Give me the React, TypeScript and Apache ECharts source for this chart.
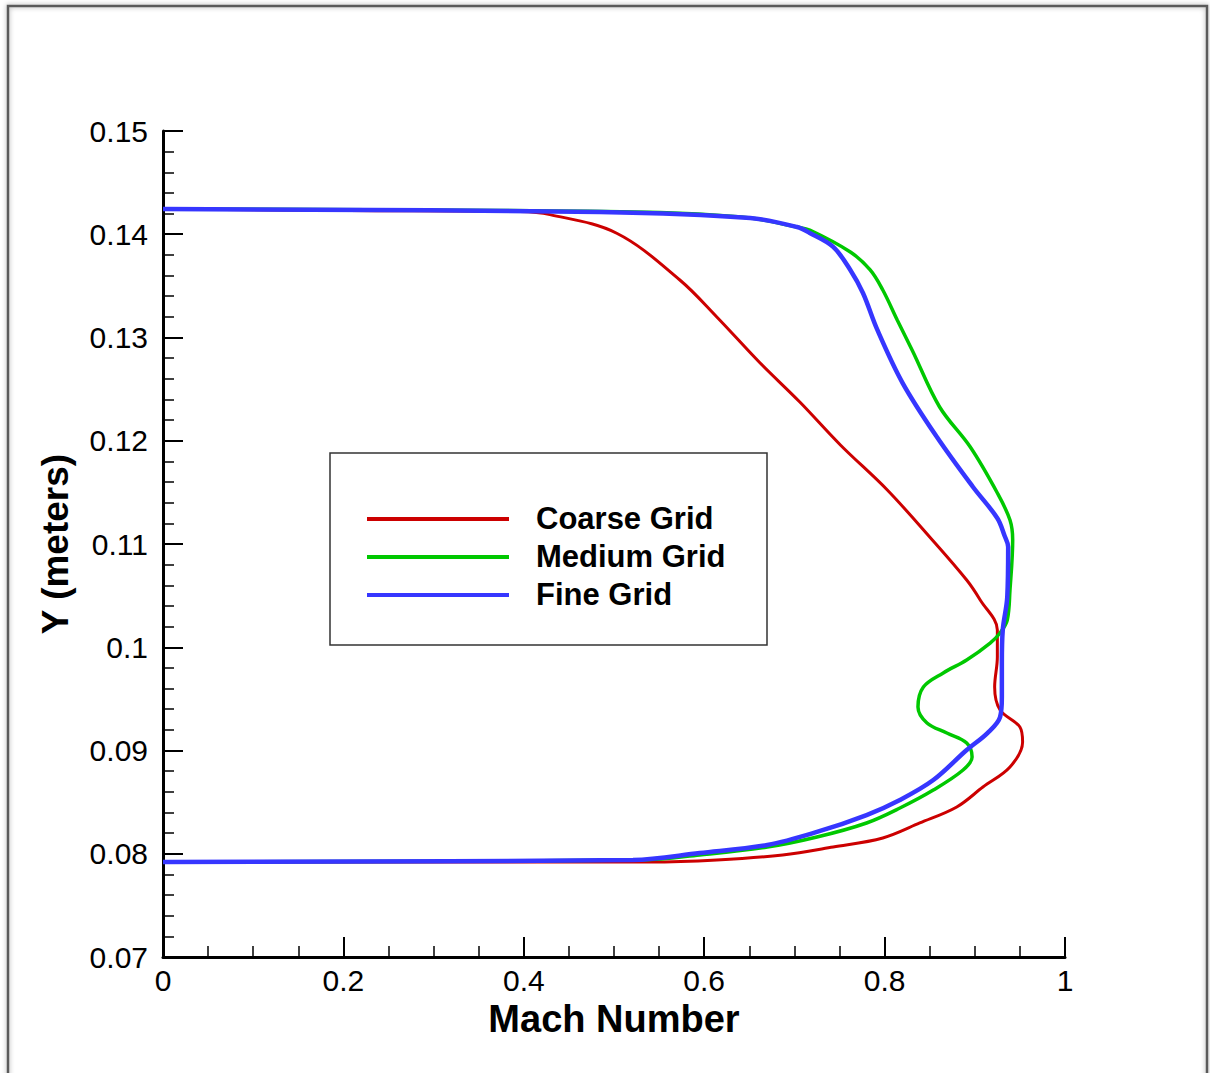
import React, { useEffect, useRef } from "react";
import * as echarts from "echarts";

const seriesNames = ["Coarse Grid", "Medium Grid", "Fine Grid"];
const seriesColors = ["#cc0000", "#00c800", "#3636ff"];

// [Mach number, Y (meters)]
const coarseGrid: number[][] = [
  [0, 0.14245], [0.207, 0.1423], [0.396, 0.1422], [0.429, 0.1419], [0.503, 0.1401],
  [0.573, 0.13557], [0.614, 0.13199], [0.662, 0.12753], [0.706, 0.12375], [0.751, 0.11959],
  [0.803, 0.11523], [0.85, 0.11068], [0.891, 0.10651], [0.906, 0.10458], [0.925, 0.10167],
  [0.925, 0.09906], [0.922, 0.09615], [0.928, 0.09392], [0.95, 0.09228], [0.953, 0.09082],
  [0.939, 0.0884], [0.909, 0.08646], [0.88, 0.08453], [0.839, 0.08298], [0.798, 0.08153],
  [0.743, 0.08065], [0.687, 0.07988], [0.614, 0.0794], [0.54, 0.0792], [0, 0.0792],
];

const mediumGrid: number[][] = [
  [0, 0.14245], [0.374, 0.1423], [0.551, 0.1421], [0.651, 0.14157], [0.703, 0.1407],
  [0.717, 0.14041], [0.762, 0.13828], [0.784, 0.13654], [0.798, 0.1346], [0.814, 0.1317],
  [0.831, 0.1287], [0.861, 0.12327], [0.895, 0.11939], [0.925, 0.11494], [0.939, 0.11232],
  [0.942, 0.11039], [0.939, 0.10554], [0.936, 0.10264], [0.928, 0.10138], [0.917, 0.10041],
  [0.891, 0.09877], [0.865, 0.09751], [0.843, 0.09615], [0.837, 0.09421], [0.847, 0.09266],
  [0.869, 0.09169], [0.891, 0.09073], [0.897, 0.08937], [0.887, 0.08811], [0.854, 0.08617],
  [0.817, 0.08443], [0.78, 0.08298], [0.725, 0.08162], [0.67, 0.08065], [0.595, 0.07988],
  [0.532, 0.0794], [0, 0.0792],
];

const fineGrid: number[][] = [
  [0, 0.14245], [0.4845, 0.14215], [0.651, 0.14157], [0.703, 0.1407], [0.717, 0.14012],
  [0.743, 0.13877], [0.762, 0.13654], [0.776, 0.13431], [0.792, 0.13073], [0.82, 0.12559],
  [0.858, 0.12036], [0.898, 0.11552], [0.925, 0.1125], [0.933, 0.1108], [0.937, 0.10971],
  [0.936, 0.10487], [0.931, 0.10167], [0.93, 0.09847], [0.93, 0.09518], [0.928, 0.09324],
  [0.914, 0.09169], [0.891, 0.09005], [0.854, 0.08714], [0.817, 0.08521], [0.78, 0.08375],
  [0.725, 0.08211], [0.67, 0.08085], [0.595, 0.08007], [0.521, 0.0794], [0, 0.0792],
];

const seriesData = [coarseGrid, mediumGrid, fineGrid];
const seriesWidths = [3, 3.5, 4.5];

const FONT = "'Liberation Sans', Arial, Helvetica, sans-serif";

export default function App() {
  const ref = useRef<HTMLDivElement>(null);

  useEffect(() => {
    document.body.style.margin = "0";
    if (!ref.current) return;
    const chart = echarts.init(ref.current, null, { renderer: "svg" });

    const legendTop = 453;
    const legendRows = [519, 557, 595];

    chart.setOption({
      animation: false,
      backgroundColor: "#ffffff",
      grid: { left: 163, top: 131, right: 145, bottom: 116, containLabel: false },
      xAxis: {
        type: "value",
        min: 0,
        max: 1,
        interval: 0.2,
        name: "Mach Number",
        nameLocation: "middle",
        nameGap: 26,
        nameTextStyle: { fontFamily: FONT, fontWeight: "bold", fontSize: 38, color: "#000" },
        axisLine: { show: true, onZero: false, lineStyle: { color: "#000", width: 3 } },
        axisTick: { show: true, inside: true, length: 20, lineStyle: { color: "#000", width: 2 } },
        minorTick: { show: true, splitNumber: 4, length: 11, lineStyle: { color: "#000", width: 1.5 } },
        splitLine: { show: false },
        axisLabel: {
          margin: 8,
          fontFamily: FONT,
          fontSize: 30,
          color: "#000",
          formatter: (v: number) => String(Math.round(v * 10) / 10),
        },
      },
      yAxis: {
        type: "value",
        min: 0.07,
        max: 0.15,
        interval: 0.01,
        name: "Y (meters)",
        nameLocation: "middle",
        nameRotate: 90,
        nameGap: 89,
        nameTextStyle: { fontFamily: FONT, fontWeight: "bold", fontSize: 37, color: "#000" },
        axisLine: { show: true, onZero: false, lineStyle: { color: "#000", width: 3 } },
        axisTick: { show: true, inside: true, length: 20, lineStyle: { color: "#000", width: 2 } },
        minorTick: { show: true, splitNumber: 5, length: 11, lineStyle: { color: "#000", width: 1.5 } },
        splitLine: { show: false },
        axisLabel: {
          margin: 15,
          fontFamily: FONT,
          fontSize: 30,
          color: "#000",
          formatter: (v: number) => String(Math.round(v * 100) / 100),
        },
      },
      series: seriesData.map((d, i) => ({
        name: seriesNames[i],
        type: "line",
        data: d,
        showSymbol: false,
        symbol: "none",
        smooth: 0.35,
        lineStyle: { color: seriesColors[i], width: seriesWidths[i] },
        z: 2 + i,
      })),
      graphic: [
        {
          type: "rect",
          shape: { x: 8, y: 6, width: 1199, height: 1090 },
          style: {
            fill: "none",
            stroke: "#5a5a5a",
            lineWidth: 2.5,
            shadowBlur: 5,
            shadowColor: "rgba(0,0,0,0.35)",
          },
          silent: true,
          z: 0,
        },
        {
          type: "group",
          z: 10,
          children: [
            {
              type: "rect",
              shape: { x: 330, y: legendTop, width: 437, height: 192 },
              style: { fill: "#fff", stroke: "#333", lineWidth: 1.5 },
            },
            ...seriesNames.flatMap((n, i) => [
              {
                type: "line",
                shape: { x1: 367, y1: legendRows[i], x2: 509, y2: legendRows[i] },
                style: { stroke: seriesColors[i], lineWidth: 4 },
              },
              {
                type: "text",
                x: 536,
                y: legendRows[i] - 1,
                style: {
                  text: n,
                  fill: "#000",
                  font: `bold 31px ${FONT}`,
                  verticalAlign: "middle",
                  align: "left",
                },
              },
            ]),
          ],
        },
      ],
    });

    return () => chart.dispose();
  }, []);

  return <div ref={ref} style={{ width: 1210, height: 1073 }} />;
}
